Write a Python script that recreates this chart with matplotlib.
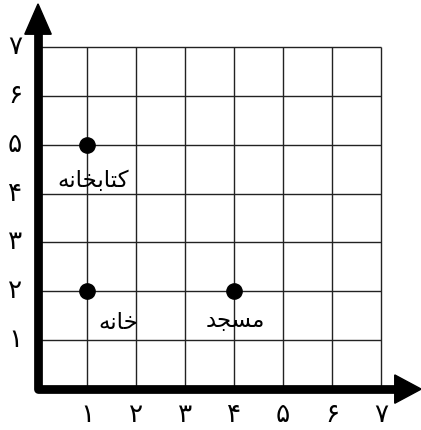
import matplotlib
matplotlib.use("Agg")
import matplotlib.pyplot as plt

# داده‌ها
grid_max = 7
tick_values = [1, 2, 3, 4, 5, 6, 7]
tick_labels = ["۱", "۲", "۳", "۴", "۵", "۶", "۷"]

place_names = ["کتابخانه", "خانه", "مسجد"]
place_x = [1, 1, 4]
place_y = [5, 2, 2]
# جای نوشته‌ها (مختصات نمودار)
label_x = [1.12, 1.63, 4.02]
label_y = [4.27, 1.37, 1.41]

# شکل‌های حروف (تنها، پایانی، آغازی، میانی) چون matplotlib حروف را به هم نمی‌چسباند
FORMS = {
    "ا": ("\uFE8D", "\uFE8E", None, None),
    "ب": ("\uFE8F", "\uFE90", "\uFE91", "\uFE92"),
    "ت": ("\uFE95", "\uFE96", "\uFE97", "\uFE98"),
    "ج": ("\uFE9D", "\uFE9E", "\uFE9F", "\uFEA0"),
    "خ": ("\uFEA5", "\uFEA6", "\uFEA7", "\uFEA8"),
    "د": ("\uFEA9", "\uFEAA", None, None),
    "س": ("\uFEB1", "\uFEB2", "\uFEB3", "\uFEB4"),
    "م": ("\uFEE1", "\uFEE2", "\uFEE3", "\uFEE4"),
    "ن": ("\uFEE5", "\uFEE6", "\uFEE7", "\uFEE8"),
    "ه": ("\uFEE9", "\uFEEA", "\uFEEB", "\uFEEC"),
    "ک": ("\uFB8E", "\uFB8F", "\uFB90", "\uFB91"),
}


def reshape(text):
    """حروف را به شکل چسبیده و از راست به چپ درمی‌آورد"""
    out = []
    n = len(text)
    for i, ch in enumerate(text):
        if ch not in FORMS:
            out.append(ch)
            continue
        prev_joins = i > 0 and text[i - 1] in FORMS and FORMS[text[i - 1]][2] is not None
        next_joins = i < n - 1 and text[i + 1] in FORMS and FORMS[ch][2] is not None
        iso, fin, ini, med = FORMS[ch]
        if prev_joins and next_joins:
            out.append(med)
        elif prev_joins:
            out.append(fin)
        elif next_joins:
            out.append(ini)
        else:
            out.append(iso)
    return "".join(reversed(out))


plt.rcParams["font.family"] = ["DejaVu Sans"]

fig = plt.figure(figsize=(4.21, 4.30), dpi=100)
ax = fig.add_axes([0, 0, 1, 1])
ax.set_xlim(-0.776, 7.816)
ax.set_ylim(-0.837, 7.96)
ax.axis("off")

# خطوط شبکه
ax.vlines(tick_values, 0, grid_max, color="#222222", lw=1.0, zorder=1)
ax.hlines(tick_values, 0, grid_max, color="#222222", lw=1.0, zorder=1)

# محورها با پیکان
ax.plot([0, 0, 7.3], [7.3, 0, 0], color="black", lw=6.3,
        solid_joinstyle="round", solid_capstyle="butt", zorder=3)
ax.arrow(0, 7.2, 0, 0.68, width=0.0, head_width=0.54, head_length=0.62,
         length_includes_head=True, color="black", zorder=4)
ax.arrow(7.2, 0, 0.62, 0, width=0.0, head_width=0.58, head_length=0.54,
         length_includes_head=True, color="black", zorder=4)

# برچسب‌های محورها
for v, lab in zip(tick_values, tick_labels):
    ax.text(v, -0.53, lab, ha="center", va="center", fontsize=19)
    ax.text(-0.47, v, lab, ha="center", va="center", fontsize=19)

# نقطه‌ها و نام مکان‌ها
ax.plot(place_x, place_y, "o", color="black", ms=11, zorder=5)
for name, lx, ly in zip(place_names, label_x, label_y):
    ax.text(lx, ly, reshape(name), ha="center", va="center", fontsize=16.5,
            zorder=6)

fig.savefig("out.png", dpi=100)
